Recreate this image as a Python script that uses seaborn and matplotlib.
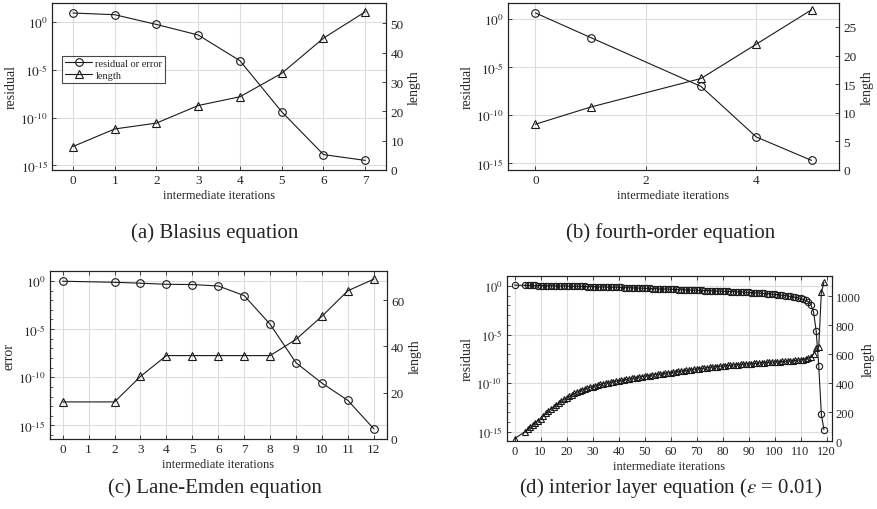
import numpy as np
import pandas as pd
import seaborn as sns
import matplotlib.pyplot as plt
from matplotlib.ticker import FixedLocator, FuncFormatter, MultipleLocator, NullFormatter

# (a) Blasius equation
iter_a = [0, 1, 2, 3, 4, 5, 6, 7]
res_a = [8.9, 5.9, 0.56, 0.044, 8.9e-5, 4.0e-10, 1.3e-14, 3.2e-15]
len_a = [8, 14, 16, 22, 25, 33, 45, 54]

# (b) fourth-order equation
iter_b = [0, 1, 3, 4, 5]
res_b = [4.6, 0.0126, 1.0e-7, 5.5e-13, 2.0e-15]
len_b = [8, 11, 16, 22, 28]

# (c) Lane-Emden equation
iter_c = [0, 2, 3, 4, 5, 6, 7, 8, 9, 10, 11, 12]
err_c = [0.93, 0.72, 0.58, 0.45, 0.42, 0.30, 0.030, 3.2e-5, 3.2e-9, 2.5e-11, 4.0e-13, 4.5e-16]
len_c = [16, 16, 27, 36, 36, 36, 36, 36, 43, 53, 64, 69]

# (d) interior layer equation
iter_d = [0] + list(range(4, 120))
res_d = [1.25,
         1.20, 1.17, 1.17, 1.15, 1.15, 1.12, 1.12, 1.10, 1.10, 1.07, 1.07, 1.05, 1.05, 1.02, 1.02, 1.00, 1.00,
         0.977, 0.977, 0.955, 0.955, 0.933, 0.912, 0.912, 0.891, 0.871, 0.871,
         0.851, 0.832, 0.832, 0.813, 0.794, 0.794, 0.776, 0.759, 0.759, 0.741,
         0.724, 0.708, 0.692, 0.676, 0.661, 0.646, 0.631, 0.617, 0.603, 0.589,
         0.575, 0.562, 0.550, 0.537, 0.525, 0.513, 0.501, 0.490, 0.479, 0.468,
         0.457, 0.447, 0.437, 0.427, 0.417, 0.407, 0.398, 0.389, 0.380, 0.372,
         0.363, 0.355, 0.347, 0.339, 0.331, 0.324, 0.316, 0.309, 0.302, 0.295,
         0.288, 0.282, 0.275, 0.269, 0.263, 0.251, 0.245, 0.240, 0.229, 0.224,
         0.214, 0.209, 0.200, 0.191, 0.182, 0.174, 0.166, 0.158, 0.148, 0.141,
         0.132, 0.123, 0.115, 0.105, 0.0955, 0.0871, 0.0794, 0.0708, 0.0617, 0.0525,
         0.0427, 0.0331, 0.0240,
         0.0117, 2.2e-3, 2.5e-5, 6.3e-9, 6.3e-14, 1.6e-15]
len_d = [16,
         64, 80, 95, 110, 125, 140, 155, 172, 190, 205, 220, 235, 250, 262, 275, 287, 298,
         308, 318, 328, 337, 345, 352, 358, 364, 370, 375,
         380, 385, 390, 395, 399, 402, 405, 409, 412, 415,
         418, 422, 425, 428, 432, 435, 438, 441, 445, 448,
         450, 452, 455, 458, 460, 462, 465, 467, 470, 472,
         475, 477, 480, 482, 485, 487, 490, 492, 495, 497,
         499, 501, 503, 506, 508, 510, 512, 514, 516, 518,
         520, 521, 523, 524, 526, 527, 528, 532, 532, 533,
         534, 536, 537, 538, 540, 541, 542, 543, 545, 546,
         547, 548, 549, 550, 552, 553, 554, 556, 558, 560,
         562, 566, 572,
         580, 600, 640, 648, 1025, 1094]

captions = ["(a) Blasius equation", "(b) fourth-order equation",
            "(c) Lane-Emden equation", r"(d) interior layer equation ($\varepsilon$ = 0.01)"]

sns.set_theme(style="ticks")
plt.rcParams["font.family"] = ["Liberation Serif", "DejaVu Serif"]
plt.rcParams["mathtext.fontset"] = "stix"
plt.rcParams["xtick.direction"] = "in"
plt.rcParams["ytick.direction"] = "in"
plt.rcParams["axes.edgecolor"] = "#222222"
plt.rcParams["axes.linewidth"] = 0.8

fig = plt.figure(figsize=(8.77, 5.1), dpi=100)


def log_fmt(v, pos):
    e = int(round(np.log10(v)))
    if e < 0:
        return r"$10^{\text{-}%d}$" % (-e)
    return r"$10^{%d}$" % e


def panel(rect, x, res, length, ylab, xlim, ylim, rlim, xstep, rstep, ms, dense,
          rpad=3, tsize=9.5):
    ax = fig.add_axes(rect)
    ax.set_yscale("log")
    df = pd.DataFrame({"it": x, "res": res, "len": length})
    sns.lineplot(data=df, x="it", y="res", ax=ax, color="k", lw=0.8, marker="o",
                 markersize=ms, markerfacecolor="none", markeredgecolor="k",
                 markeredgewidth=0.8, legend=False, label="residual or error")
    ax.set_xlim(*xlim)
    ax.set_ylim(*ylim)
    ax.yaxis.set_major_locator(FixedLocator([1e-15, 1e-10, 1e-5, 1e0]))
    ax.yaxis.set_major_formatter(FuncFormatter(log_fmt))
    if dense:
        ax.yaxis.set_minor_locator(FixedLocator([10.0 ** k for k in range(-16, 2)]))
        ax.tick_params(axis="x", top=True)
    else:
        ax.yaxis.set_minor_locator(FixedLocator([]))
    ax.yaxis.set_minor_formatter(NullFormatter())
    ax.xaxis.set_major_locator(MultipleLocator(xstep))
    ax.grid(True, color="#dcdcdc", lw=0.8)
    ax.set_axisbelow(True)
    ax.tick_params(labelsize=tsize, length=3, width=0.6, pad=3)
    ax.tick_params(which="minor", length=2, width=0.5)
    ax.set_xlabel("intermediate iterations", fontsize=9, labelpad=2)
    ax.set_ylabel(ylab, fontsize=10, labelpad=2)

    ax2 = ax.twinx()
    sns.lineplot(data=df, x="it", y="len", ax=ax2, color="k", lw=0.8, marker="^",
                 markersize=ms, markerfacecolor="none", markeredgecolor="k",
                 markeredgewidth=0.8, legend=False, label="length")
    ax2.set_ylim(*rlim)
    ax2.yaxis.set_major_locator(MultipleLocator(rstep))
    ax2.tick_params(labelsize=tsize, length=3, width=0.6, pad=3)
    ax2.set_ylabel("length", fontsize=10, labelpad=rpad)
    ax2.grid(False)
    return ax, ax2


top_bottom = 1 - 171 / 510
ax, ax2 = panel([0.0593, top_bottom, 0.381, 0.3275], iter_a, res_a, len_a, "residual",
                (-0.5, 7.5), (10 ** -15.5, 10 ** 2), (0, 57), 1, 10, 5.5, False)
h1, l1 = ax.get_legend_handles_labels()
h2, l2 = ax2.get_legend_handles_labels()
leg = ax2.legend(h1 + h2, l1 + l2, loc="upper left", bbox_to_anchor=(0.03, 0.685),
                 fontsize=7.5, frameon=True, fancybox=False, edgecolor="k",
                 handlelength=2.6, borderpad=0.3, labelspacing=0.25, handletextpad=0.3,
                 borderaxespad=0)
leg.get_frame().set_linewidth(0.8)

panel([0.579, top_bottom, 0.3778, 0.3275], iter_b, res_b, len_b, "residual",
      (-0.5, 5.5), (10 ** -15.7, 10 ** 1.7), (0, 29.2), 2, 5, 5.5, False)
panel([0.0567, 0.1373, 0.3843, 0.3288], iter_c, err_c, len_c, "error",
      (-0.5, 12.5), (10 ** -16.4, 10 ** 1.0), (0, 72.4), 1, 20, 5.5, True)
panel([0.5778, 0.1333, 0.3706, 0.324], iter_d, res_d, len_d, "residual",
      (-3, 122), (10 ** -15.96, 10 ** 1.06), (0, 1140), 10, 200, 4.5, True,
      rpad=0.5, tsize=9)

fig.text(0.245, 1 - 233 / 510, captions[0], ha="center", va="center", fontsize=15)
fig.text(0.765, 1 - 233 / 510, captions[1], ha="center", va="center", fontsize=15)
fig.text(0.245, 1 - 488 / 510, captions[2], ha="center", va="center", fontsize=15)
fig.text(0.765, 1 - 488 / 510, captions[3], ha="center", va="center", fontsize=15)

fig.savefig("out.png", dpi=100)
